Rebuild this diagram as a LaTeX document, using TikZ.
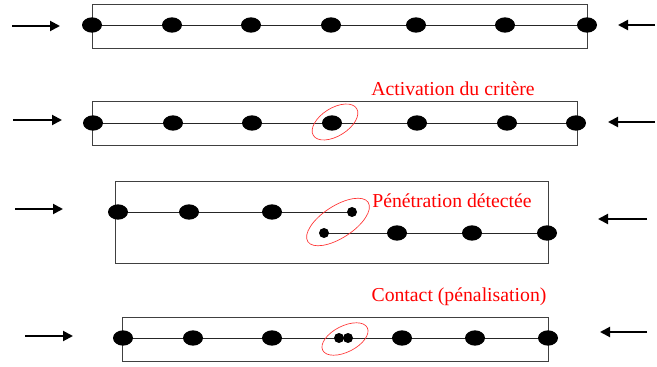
\documentclass[tikz,border=0pt]{standalone}
\usepackage{fontspec}
\setmainfont{Liberation Serif}
\usetikzlibrary{arrows.meta,shapes.geometric,backgrounds}
\tikzset{
  bead/.style={ellipse,fill=black,inner sep=0pt,minimum width=15pt,minimum height=11.5pt},
  grain/.style={circle,fill=black,inner sep=0pt,minimum size=7.5pt},
  rod/.style={black!85,line width=0.6pt},
  frame/.style={black!75,line width=0.7pt},
  push/.style={line width=1.5pt,-{Triangle[length=7.5pt,width=7.5pt]}},
  zone/.style={red!80,line width=0.5pt},
  note/.style={text=red,font=\fontsize{14.8}{17}\selectfont}
}
\begin{document}
\begin{tikzpicture}[x=0.75pt,y=-0.75pt]
\useasboundingbox (0,0) rectangle (657,367);
% ligne 1 : etat initial
\def\yA{25};
\draw[frame] (92,4) rectangle (587,48);
\foreach \x [count=\i] in {92,172,251,331,416,505,587} \node[bead] (a\i) at (\x,\yA) {};
\begin{pgfonlayer}{background}
\draw[rod] (a1.center) -- (a7.center);
\end{pgfonlayer}
\coordinate (gA) at (12,26);
\coordinate (dA) at (655,\yA);
\draw[push] (gA) -- (60,26);
\draw[push] (dA) -- (618,\yA);
% ligne 2 : activation du critere
\def\yB{123};
\draw[frame] (92,101) rectangle (577,145);
\foreach \x [count=\i] in {93,173,252,332,417,507,576} \node[bead] (b\i) at (\x,\yB) {};
\begin{pgfonlayer}{background}
\draw[rod] (b1.center) -- (b7.center);
\end{pgfonlayer}
\draw[zone] (335,122) ellipse [x radius=25.5,y radius=14,rotate=32];
\node[note] (nB) at (453,89) {Activation du critère};
\coordinate (gB) at (13,120);
\coordinate (dB) at (655,122);
\draw[push] (gB) -- (62,120);
\draw[push] (dB) -- (608,122);
% ligne 3 : penetration
\def\yC{212};
\def\yD{233};
\draw[frame] (115,181) rectangle (548,263);
\foreach \x [count=\i] in {118,189,272} \node[bead] (c\i) at (\x,\yC) {};
\node[grain] (c4) at (352,\yC) {};
\node[grain] (e1) at (324,\yD) {};
\foreach \x [count=\i from 2] in {397,472,547} \node[bead] (e\i) at (\x,\yD) {};
\begin{pgfonlayer}{background}
\draw[rod] (c1.center) -- (c4.center);
\draw[rod] (e1.center) -- (e4.center);
\end{pgfonlayer}
\draw[zone] (338,222) ellipse [x radius=36,y radius=16,rotate=33];
\node[note] (nC) at (452,201) {Pénétration détectée};
\coordinate (gC) at (15,209);
\coordinate (dC) at (647,219);
\draw[push] (gC) -- (63,209);
\draw[push] (dC) -- (598,219);
% ligne 4 : contact
\def\yE{338};
\draw[frame] (122,317) rectangle (548,361);
\foreach \x [count=\i] in {123,193,272} \node[bead] (f\i) at (\x,\yE) {};
\node[grain] (f4) at (339,\yE) {};
\node[grain] (f5) at (348,\yE) {};
\foreach \x [count=\i from 6] in {402,475,548} \node[bead] (f\i) at (\x,\yE) {};
\begin{pgfonlayer}{background}
\draw[rod] (f1.center) -- (f8.center);
\end{pgfonlayer}
\draw[zone] (345,339) ellipse [x radius=25,y radius=13,rotate=27];
\node[note] (nE) at (459,297) {Contact (pénalisation)};
\coordinate (gE) at (25,336);
\coordinate (dE) at (647,332);
\draw[push] (gE) -- (73,336);
\draw[push] (dE) -- (600,332);
\end{tikzpicture}
\end{document}
